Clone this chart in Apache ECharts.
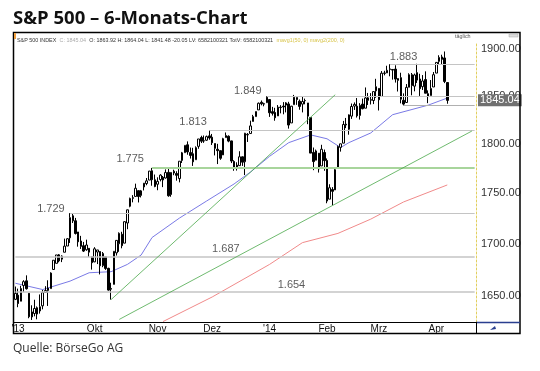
<!DOCTYPE html>
<html><head><meta charset="utf-8">
<script src="https://cdn.jsdelivr.net/npm/echarts@6/dist/echarts.min.js"></script>
<style>html,body{margin:0;padding:0;background:#fff}#c{width:540px;height:371px}</style>
</head><body><div id="c"></div>
<script>
// ---------- DATA ----------
const dates = [
 '2013-08-20','2013-08-21','2013-08-22','2013-08-23','2013-08-26','2013-08-27','2013-08-28','2013-08-29','2013-08-30',
 '2013-09-03','2013-09-04','2013-09-05','2013-09-06','2013-09-09','2013-09-10','2013-09-11','2013-09-12','2013-09-13','2013-09-16','2013-09-17','2013-09-18','2013-09-19','2013-09-20','2013-09-23','2013-09-24','2013-09-25','2013-09-26','2013-09-27','2013-09-30',
 '2013-10-01','2013-10-02','2013-10-03','2013-10-04','2013-10-07','2013-10-08','2013-10-09','2013-10-10','2013-10-11','2013-10-14','2013-10-15','2013-10-16','2013-10-17','2013-10-18','2013-10-21','2013-10-22','2013-10-23','2013-10-24','2013-10-25','2013-10-28','2013-10-29','2013-10-30','2013-10-31',
 '2013-11-01','2013-11-04','2013-11-05','2013-11-06','2013-11-07','2013-11-08','2013-11-11','2013-11-12','2013-11-13','2013-11-14','2013-11-15','2013-11-18','2013-11-19','2013-11-20','2013-11-21','2013-11-22','2013-11-25','2013-11-26','2013-11-27','2013-11-29',
 '2013-12-02','2013-12-03','2013-12-04','2013-12-05','2013-12-06','2013-12-09','2013-12-10','2013-12-11','2013-12-12','2013-12-13','2013-12-16','2013-12-17','2013-12-18','2013-12-19','2013-12-20','2013-12-23','2013-12-24','2013-12-26','2013-12-27','2013-12-30','2013-12-31',
 '2014-01-02','2014-01-03','2014-01-06','2014-01-07','2014-01-08','2014-01-09','2014-01-10','2014-01-13','2014-01-14','2014-01-15','2014-01-16','2014-01-17','2014-01-21','2014-01-22','2014-01-23','2014-01-24','2014-01-27','2014-01-28','2014-01-29','2014-01-30','2014-01-31',
 '2014-02-03','2014-02-04','2014-02-05','2014-02-06','2014-02-07','2014-02-10','2014-02-11','2014-02-12','2014-02-13','2014-02-14','2014-02-18','2014-02-19','2014-02-20','2014-02-21','2014-02-24','2014-02-25','2014-02-26','2014-02-27','2014-02-28',
 '2014-03-03','2014-03-04','2014-03-05','2014-03-06','2014-03-07','2014-03-10','2014-03-11','2014-03-12','2014-03-13','2014-03-14','2014-03-17','2014-03-18','2014-03-19','2014-03-20','2014-03-21','2014-03-24','2014-03-25','2014-03-26','2014-03-27','2014-03-28','2014-03-31',
 '2014-04-01','2014-04-02','2014-04-03','2014-04-04','2014-04-07'
];
const futureDates = ['2014-04-08','2014-04-09','2014-04-10','2014-04-11','2014-04-14','2014-04-15','2014-04-16','2014-04-17','2014-04-21','2014-04-22'];

const opens = [
 1646.8,1650.7,1645.0,1659.9,1664.3,1652.5,1630.3,1633.5,1638.9,
 1635.9,1640.7,1653.3,1657.4,1656.9,1675.1,1681.0,1689.2,1685.0,1691.7,1697.7,1705.7,1727.3,1722.4,1711.4,1702.6,1698.0,1694.1,1695.5,1687.3,
 1682.4,1691.9,1692.4,1678.8,1687.2,1676.2,1657.0,1660.9,1691.1,1699.9,1709.2,1700.5,1720.2,1736.7,1745.2,1746.5,1752.3,1747.5,1756.0,1759.4,1762.9,1772.3,1763.2,
 1758.7,1763.4,1765.7,1765.0,1770.7,1748.4,1770.0,1769.5,1764.4,1782.8,1790.7,1798.8,1790.8,1789.6,1783.5,1797.2,1806.3,1802.9,1803.5,1808.0,
 1806.6,1800.1,1794.2,1792.8,1788.4,1806.2,1807.6,1802.8,1781.7,1778.0,1777.5,1786.5,1781.5,1809.0,1810.4,1822.9,1828.0,1835.0,1843.0,1841.5,1842.6,
 1845.9,1833.2,1832.3,1828.7,1837.9,1839.0,1840.1,1841.3,1821.4,1840.5,1848.0,1844.2,1841.1,1844.7,1842.3,1827.0,1791.0,1783.0,1790.2,1777.2,1790.9,
 1782.7,1743.8,1753.4,1753.0,1776.0,1796.2,1800.5,1820.1,1814.8,1828.5,1839.0,1838.9,1829.2,1841.1,1836.8,1847.7,1845.8,1844.9,1855.1,
 1857.7,1849.2,1874.1,1874.2,1878.5,1877.9,1878.3,1866.2,1869.1,1845.1,1842.8,1858.9,1872.3,1860.1,1874.5,1867.7,1859.5,1867.1,1852.1,1850.1,1859.2,
 1874.0,1886.6,1891.4,1890.3,1863.92
];
const highs = [
 1658.9,1656.9,1659.6,1664.9,1669.5,1652.5,1641.2,1646.4,1640.1,
 1651.4,1655.7,1659.2,1664.8,1672.4,1684.1,1689.1,1690.0,1688.7,1704.9,1705.5,1729.9,1729.9,1725.2,1711.4,1707.6,1701.7,1703.9,1695.5,1687.3,
 1696.6,1693.9,1692.4,1691.9,1687.2,1676.8,1662.5,1692.6,1703.4,1711.0,1711.6,1721.8,1733.4,1745.3,1747.8,1759.3,1752.3,1753.0,1759.8,1765.0,1772.1,1775.2,1768.5,
 1765.7,1768.8,1767.0,1773.7,1774.5,1770.8,1773.4,1771.8,1782.0,1791.5,1798.2,1802.3,1796.0,1795.7,1797.2,1804.8,1808.1,1808.4,1808.3,1813.6,
 1810.0,1800.1,1799.8,1792.8,1806.0,1811.5,1808.5,1803.0,1783.0,1780.9,1792.2,1786.8,1811.1,1810.9,1823.8,1829.8,1833.3,1842.8,1844.9,1842.5,1849.4,
 1845.9,1838.2,1837.2,1840.1,1840.0,1843.2,1843.2,1843.5,1839.3,1850.8,1848.0,1846.0,1849.3,1846.9,1842.3,1827.0,1796.0,1793.9,1790.2,1798.8,1793.9,
 1784.8,1758.7,1755.8,1774.1,1798.0,1799.9,1823.5,1826.6,1830.3,1841.7,1842.9,1847.5,1842.1,1846.9,1858.7,1852.9,1852.7,1854.5,1867.9,
 1857.7,1876.2,1876.5,1881.9,1883.6,1877.9,1882.4,1868.4,1874.4,1852.4,1862.3,1873.8,1874.1,1873.5,1884.0,1873.3,1871.9,1875.9,1855.6,1866.6,1875.2,
 1885.8,1893.2,1893.8,1897.3,1864.04
];
const lows = [
 1646.1,1639.4,1645.0,1653.6,1656.0,1629.1,1627.5,1630.9,1628.1,
 1633.4,1637.4,1653.1,1640.6,1656.9,1675.1,1681.0,1682.0,1682.2,1691.7,1697.7,1700.7,1720.2,1708.9,1697.1,1694.9,1691.9,1693.1,1687.1,1675.0,
 1682.1,1680.3,1670.4,1677.3,1674.7,1655.0,1646.5,1660.9,1688.5,1692.1,1695.5,1700.5,1714.1,1735.7,1740.6,1746.5,1740.5,1745.5,1752.5,1757.7,1762.9,1757.2,1755.7,
 1752.7,1761.6,1755.8,1764.4,1746.2,1746.2,1767.8,1762.3,1760.6,1780.2,1790.7,1788.6,1784.7,1777.2,1783.5,1794.7,1800.6,1800.8,1802.8,1804.0,
 1798.6,1787.9,1779.1,1783.4,1788.4,1806.2,1801.4,1780.1,1772.3,1772.5,1777.5,1777.2,1768.0,1801.7,1810.3,1822.9,1828.0,1835.0,1839.8,1838.8,1842.4,
 1827.7,1829.1,1823.7,1828.7,1831.4,1830.4,1832.4,1815.5,1821.4,1840.5,1840.3,1835.2,1832.4,1840.9,1820.1,1790.3,1772.9,1783.0,1770.5,1777.2,1772.3,
 1739.7,1743.8,1737.9,1753.0,1776.0,1791.8,1800.4,1816.0,1809.2,1825.6,1835.0,1827.0,1824.9,1835.6,1836.8,1840.2,1840.7,1841.1,1847.7,
 1834.4,1849.2,1871.6,1874.2,1870.6,1867.0,1863.9,1854.4,1841.9,1839.6,1842.8,1858.9,1850.4,1854.6,1863.5,1849.7,1856.0,1852.6,1842.1,1850.1,1859.2,
 1874.0,1883.8,1882.7,1863.3,1841.48
];
const closes = [
 1652.4,1642.8,1657.0,1663.5,1656.8,1630.5,1635.0,1638.2,1633.0,
 1639.8,1653.1,1655.1,1655.2,1671.7,1684.0,1689.1,1683.4,1688.0,1697.6,1704.8,1725.5,1722.3,1709.9,1701.8,1697.4,1692.8,1698.7,1691.8,1681.6,
 1695.0,1693.9,1678.7,1690.5,1676.1,1655.5,1656.4,1692.6,1703.2,1710.1,1698.1,1721.5,1733.2,1744.5,1744.7,1754.7,1746.4,1752.1,1759.8,1762.1,1772.0,1763.3,1756.5,
 1761.6,1767.9,1763.0,1770.5,1747.2,1770.6,1771.9,1767.7,1782.0,1790.6,1798.2,1791.5,1787.9,1781.4,1795.9,1804.8,1802.5,1802.8,1807.2,1805.8,
 1800.9,1795.2,1792.8,1785.0,1805.1,1808.4,1802.6,1782.2,1775.5,1775.3,1786.5,1781.0,1810.7,1809.6,1818.3,1828.0,1833.3,1842.0,1841.4,1841.1,1848.4,
 1832.0,1831.4,1826.8,1837.9,1837.5,1838.1,1842.4,1819.2,1838.9,1848.4,1845.9,1838.7,1843.8,1844.9,1828.5,1790.3,1781.6,1792.5,1774.2,1794.2,1782.6,
 1741.9,1755.2,1751.6,1773.4,1797.0,1799.8,1819.8,1819.3,1829.8,1838.6,1840.8,1828.8,1839.8,1836.3,1847.6,1845.1,1845.2,1854.3,1859.5,
 1845.7,1873.9,1873.8,1877.0,1878.0,1877.2,1867.6,1868.2,1846.3,1841.1,1858.8,1872.3,1860.8,1872.0,1866.5,1857.4,1865.6,1852.6,1849.0,1857.6,1872.3,
 1885.5,1890.9,1888.8,1865.1,1845.04
];

// moving averages, values at selected days
const ma50Dates  = ['2013-08-20','2013-09-04','2013-09-18','2013-09-27','2013-10-09','2013-10-17','2013-10-24','2013-10-30','2013-11-13','2013-11-27','2013-12-12','2013-12-20','2014-01-02','2014-01-13','2014-01-24','2014-02-03','2014-02-10','2014-02-13','2014-02-26','2014-03-10','2014-03-27','2014-04-07'];
const ma50Values = [1662,1656,1664,1672,1673,1680,1689,1706,1725,1742,1759,1771,1787,1801,1809,1805,1796,1801,1811,1830,1840,1847.5];
const ma200Dates  = ['2013-11-05','2013-12-02','2014-01-02','2014-01-21','2014-02-07','2014-02-26','2014-03-14','2014-04-07'];
const ma200Values = [1626,1649,1680,1701,1710,1724,1741,1758];

// horizontal levels
const levelLabels = ['1.883','1.849','1.813','1.775','1.729','1.687','1.654'];
const levelValues = [1883.6,1849.4,1813.6,1775.2,1729.9,1687,1654];
const levelStarts = ['2014-03-07','2013-12-31','2013-11-29','2013-10-30','2013-09-18','2013-08-20','2013-08-20'];
const supportValue = 1839.6, supportStart = '2014-03-14';

// trend lines [date, value]
const trend1 = [['2013-10-09',1646.5],['2014-02-06',1851]];
const trend2 = [['2013-10-14',1628],['2014-04-21',1813]];

const yTickValues = [1650,1700,1750,1800,1850,1900];
const xTickDates  = ['2013-08-21','2013-10-01','2013-11-01','2013-12-02','2014-01-02','2014-02-03','2014-03-03','2014-04-01'];
const xTickTexts  = ["'13",'Okt','Nov','Dez',"'14",'Feb','Mrz','Apr'];
const lastClose = 1845.04;

// ---------- BUILD ----------
const cats = dates.concat(futureDates);
const candle = dates.map((d,i)=>[opens[i],closes[i],lows[i],highs[i]]);
function sparse(ds, vs){ const m={}; ds.forEach((d,i)=>m[d]=vs[i]); return cats.map(d=> d in m ? m[d] : null); }
const xLab = {}; xTickDates.forEach((d,i)=>xLab[d]=xTickTexts[i]);
const lastCat = cats[cats.length-1];
const FONT = 'Liberation Sans, Arial, sans-serif';

const levelLines = levelValues.map((v,i)=>[
  {coord:[levelStarts[i], v], lineStyle: i===3 ? {color:'#a8d59c', width:2, type:'solid'} : {color:'#c4c4c4', width: i>=5?1.5:1, type:'solid'}},
  {coord:[lastCat, v]}
]);
levelLines.push([{coord:[supportStart,supportValue], lineStyle:{color:'#b0b0b0',width:1,type:'solid'}},{coord:[lastCat,supportValue]}]);
const trendLines = [trend1, trend2].map(t=>[{coord:t[0], lineStyle:{color:'#4aa84a',width:0.8,type:'solid'}},{coord:t[1]}]);

// label anchors (date, value) for the level texts
const levelLabelAnchors = [['2014-03-14',1891],['2013-12-19',1855],['2013-11-20',1822],['2013-10-18',1784],['2013-09-09',1734],['2013-12-09',1695],['2014-01-14',1660]];

const chart = echarts.init(document.getElementById('c'), null, {renderer:'canvas'});
chart.setOption({
  animation:false,
  backgroundColor:'#fff',
  grid:{left:14, right:64, top:42, bottom:49, containLabel:false},
  xAxis:{type:'category', data:cats, boundaryGap:true,
    axisLine:{show:true, lineStyle:{color:'#000', width:1}},
    axisTick:{show:false}, splitLine:{show:false},
    axisLabel:{interval:(idx,val)=> val in xLab, formatter:(val)=> xLab[val]||'', fontSize:10, color:'#111', fontFamily:FONT, margin:2}
  },
  yAxis:{type:'log', logBase:10, min:1625.6, max:1907.6, position:'right',
    axisLine:{show:true, lineStyle:{color:'#e2cf5e', width:1, type:[2,2]}},
    axisTick:{show:false}, axisLabel:{show:false}, splitLine:{show:false}
  },
  series:[
    {type:'line', data:[], silent:true, z:1,
      markLine:{silent:true, symbol:['none','none'], animation:false, label:{show:false}, data: levelLines.concat(trendLines)}},
    {type:'scatter', silent:true, z:3, symbolSize:1, itemStyle:{color:'rgba(0,0,0,0)'},
      data: levelLabelAnchors.map((a,i)=>({value:[a[0],a[1]], name:levelLabels[i]})),
      label:{show:true, position:'inside', formatter:p=>p.name, fontSize:11, color:'#333', fontFamily:FONT}},
    {type:'line', name:'mavg2', data:sparse(ma200Dates, ma200Values), connectNulls:true, showSymbol:false, silent:true, z:2,
      lineStyle:{color:'#f08a8a', width:1}},
    {type:'line', name:'mavg1', data:sparse(ma50Dates, ma50Values), connectNulls:true, showSymbol:false, silent:true, z:2,
      lineStyle:{color:'#7a7ae6', width:1}},
    {type:'candlestick', name:'S&P 500', data:candle, barWidth:2, z:4,
      itemStyle:{color:'#ffffff', color0:'#000000', borderColor:'#000000', borderColor0:'#000000', borderWidth:1}},
    {type:'line', data:[], silent:true, z:5,
      markLine:{silent:true, symbol:['none','none'], animation:false, lineStyle:{color:'rgba(0,0,0,0)', width:0},
        data: yTickValues.map(v=>({yAxis:v, label:{show:true, position:'end', distance:5, formatter:()=>v.toFixed(2), fontSize:11, color:'#333', fontFamily:FONT}}))
          .concat([{yAxis:lastClose, label:{show:true, position:'end', distance:2, formatter:()=>lastClose.toFixed(2), fontSize:11, color:'#fff', backgroundColor:'#707070', padding:[1,2,0,2], fontFamily:FONT}}])
      }}
  ],
  graphic:[
    {type:'text', left:13, top:9, style:{text:'S&P 500 – 6-Monats-Chart', font:'bold 18.5px "Open Sans"', fill:'#111'}},
    {type:'text', left:13, top:343, style:{text:'Quelle: BörseGo AG', font:'12px "Open Sans"', fill:'#333'}},
    {type:'rect', shape:{x:13.5, y:32.5, width:506.5, height:301}, style:{fill:'none', stroke:'#000', lineWidth:1.5}, z:100},
    {type:'rect', shape:{x:14, y:33, width:2, height:6}, style:{fill:'#f0a040'}, z:101},
    {type:'text', x:17, y:34.5, style:{
      text:'{a|S&P 500 INDEX} {b|C: 1845.04} {a|O: 1863.92 H: 1864.04 L: 1841.48 -20.05 LV: 6582100321 TotV: 6582100321} {c|mavg1(50, 0) mavg2(200, 0)}',
      rich:{a:{fontSize:5.4, fill:'#333', fontFamily:FONT}, b:{fontSize:5.4, fill:'#aaa', fontFamily:FONT}, c:{fontSize:5.4, fill:'#d8c44a', fontFamily:FONT}}}, z:101},
    {type:'text', x:455, y:34.5, style:{text:'täglich', fontSize:5.4, fill:'#555', fontFamily:FONT}, z:101},
    {type:'rect', shape:{x:509, y:34, width:9, height:3}, style:{fill:'#ddd', stroke:'#aaa', lineWidth:0.5}, z:101},
    {type:'line', shape:{x1:476, y1:322.5, x2:520, y2:322.5}, style:{stroke:'#2a3f8f', lineWidth:1.5}, z:101},
    {type:'line', shape:{x1:476.5, y1:322, x2:476.5, y2:333}, style:{stroke:'#000', lineWidth:1}, z:101},
    {type:'polygon', shape:{points:[[490,330],[495,326],[496,329]]}, style:{fill:'#2a3f8f'}, z:101}
  ]
});
</script></body></html>
